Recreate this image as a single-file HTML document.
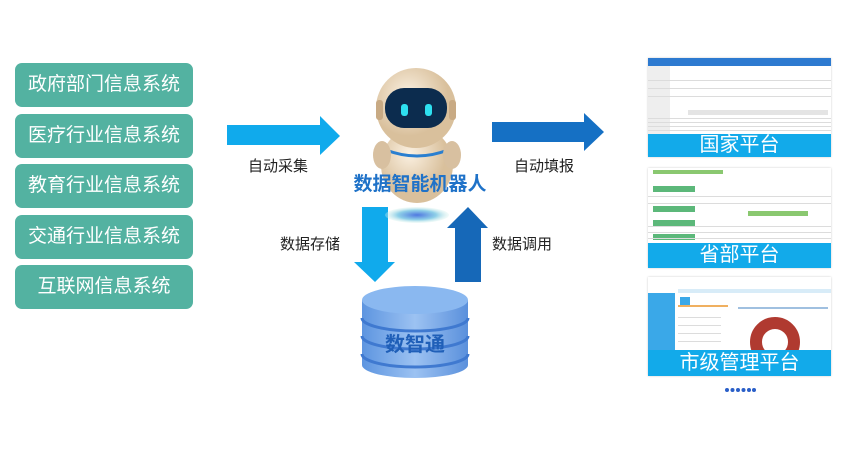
<!DOCTYPE html>
<html><head><meta charset="utf-8"><style>
body{margin:0;width:860px;height:450px;background:#fff;overflow:hidden;position:relative;font-family:"Liberation Sans","Noto Sans CJK SC",sans-serif}
.b{position:absolute;left:15px;width:178px;height:44px;background:#53b2a1;border-radius:7px;color:#fff;font-size:19px;line-height:44px;text-align:center}
.t{position:absolute;font-size:15px;color:#222}
.p{position:absolute;left:648px;width:183px;background:#fff;box-shadow:0 0 2px #ccc;overflow:hidden}
.band{position:absolute;left:0;right:0;bottom:0;background:#12aaea;color:#fff;font-size:20px;text-align:center}
.row{position:absolute;left:0;right:0;height:1px;background:#dcdcdc}
</style></head><body>
<div class="b" style="top:63px">政府部门信息系统</div>
<div class="b" style="top:114px">医疗行业信息系统</div>
<div class="b" style="top:164px">教育行业信息系统</div>
<div class="b" style="top:215px">交通行业信息系统</div>
<div class="b" style="top:265px">互联网信息系统</div>

<svg width="860" height="450" style="position:absolute;left:0;top:0">
<defs>
<linearGradient id="cy" x1="0" x2="1"><stop offset="0" stop-color="#5d95e0"/><stop offset="0.5" stop-color="#9cc2f2"/><stop offset="1" stop-color="#5a90dc"/></linearGradient>
<radialGradient id="sh"><stop offset="0" stop-color="#4f78e0"/><stop offset="0.6" stop-color="#8fd0e8"/><stop offset="1" stop-color="#d8f2ec" stop-opacity="0.3"/></radialGradient>
<radialGradient id="hd" cx="0.4" cy="0.35"><stop offset="0" stop-color="#fbf1e2"/><stop offset="1" stop-color="#d9c09c"/></radialGradient>
</defs>
<polygon points="227,125 320,125 320,116 340,136 320,155 320,145 227,145" fill="#10aaec"/>
<polygon points="492,122 584,122 584,113 604,132 584,151 584,142 492,142" fill="#1570c4"/>
<polygon points="362,207 388,207 388,262 395,262 375,282 354,262 362,262" fill="#10aaec"/>
<polygon points="455,282 481,282 481,228 488,228 468,207 447,228 455,228" fill="#1668b8"/>
<ellipse cx="417" cy="215" rx="32" ry="8" fill="url(#sh)"/>
<ellipse cx="417" cy="165" rx="36" ry="38" fill="url(#hd)"/>
<path d="M386 150 Q417 162 448 150" stroke="#2a7fd0" stroke-width="3" fill="none"/>
<ellipse cx="382" cy="155" rx="9" ry="14" fill="#d8c0a0"/>
<ellipse cx="452" cy="155" rx="9" ry="14" fill="#d8c0a0"/>
<ellipse cx="416" cy="108" rx="40" ry="40" fill="url(#hd)"/>
<rect x="376" y="100" width="7" height="20" rx="3" fill="#c8aa84"/>
<rect x="449" y="100" width="7" height="20" rx="3" fill="#c8aa84"/>
<rect x="385" y="88" width="62" height="40" rx="19" fill="#0c2c4e"/>
<rect x="401" y="104" width="7" height="12" rx="3" fill="#2ee0f0"/>
<rect x="425" y="104" width="7" height="12" rx="3" fill="#2ee0f0"/>
<path d="M362 300 L362 365 A53 13 0 0 0 468 365 L468 300 Z" fill="url(#cy)"/>
<path d="M362 318 A53 13 0 0 0 468 318 M362 336 A53 13 0 0 0 468 336 M362 354 A53 13 0 0 0 468 354" stroke="#3f79d0" stroke-width="3" fill="none"/>
<ellipse cx="415" cy="300" rx="53" ry="14" fill="#8ab8f0"/>
<text x="415" y="351" text-anchor="middle" font-size="20" font-weight="bold" fill="#1f5fb8" font-family="Liberation Sans,Noto Sans CJK SC,sans-serif">数智通</text>
<text x="420" y="190" text-anchor="middle" font-size="19" font-weight="bold" fill="#1f72c8" font-family="Liberation Sans,Noto Sans CJK SC,sans-serif">数据智能机器人</text>
<g fill="#2a5fc8"><circle cx="727" cy="390" r="2"/><circle cx="732.5" cy="390" r="2"/><circle cx="738" cy="390" r="2"/><circle cx="743.5" cy="390" r="2"/><circle cx="749" cy="390" r="2"/><circle cx="754" cy="390" r="2"/></g>
</svg>

<div class="t" style="left:248px;top:155px">自动采集</div>
<div class="t" style="left:514px;top:155px">自动填报</div>
<div class="t" style="left:280px;top:233px">数据存储</div>
<div class="t" style="left:492px;top:233px">数据调用</div>

<div class="p" style="top:58px;height:99px">
 <div style="position:absolute;left:0;right:0;top:0;height:8px;background:#2d7ad0"></div>
 <div style="position:absolute;left:0;top:8px;width:22px;height:76px;background:#eee"></div>
 <div style="position:absolute;left:40px;top:52px;width:140px;height:5px;background:#e4e4e4"></div>
 <div class="row" style="top:22px"></div><div class="row" style="top:30px"></div><div class="row" style="top:38px"></div><div class="row" style="top:60px"></div><div class="row" style="top:64px"></div><div class="row" style="top:68px"></div><div class="row" style="top:72px"></div>
 <div class="band" style="height:23px;line-height:23px">国家平台</div>
</div>
<div class="p" style="top:168px;height:100px">
 <div style="position:absolute;left:5px;top:18px;width:42px;height:6px;background:#5cb87a"></div>
 <div style="position:absolute;left:5px;top:38px;width:42px;height:6px;background:#5cb87a"></div>
 <div style="position:absolute;left:5px;top:52px;width:42px;height:6px;background:#5cb87a"></div>
 <div style="position:absolute;left:5px;top:66px;width:42px;height:6px;background:#5cb87a"></div>
 <div style="position:absolute;left:5px;top:2px;width:70px;height:4px;background:#8ac870"></div>
 <div style="position:absolute;left:100px;top:43px;width:60px;height:5px;background:#8ac870"></div>
 <div class="row" style="top:28px"></div><div class="row" style="top:35px"></div><div class="row" style="top:58px"></div><div class="row" style="top:64px"></div><div class="row" style="top:70px"></div>
 <div class="band" style="height:25px;line-height:25px">省部平台</div>
</div>
<div class="p" style="top:277px;height:99px">
 <div style="position:absolute;left:0;top:0;width:27px;height:80px;background:#3aa8e8"></div>
 <div style="position:absolute;left:0;top:0;width:27px;height:16px;background:#fff"></div>
 <div style="position:absolute;left:30px;top:12px;width:153px;height:4px;background:#d8ecf8"></div>
 <div style="position:absolute;left:32px;top:20px;width:10px;height:10px;background:#3aa8e8"></div>
 <div style="position:absolute;left:90px;top:30px;width:90px;height:2px;background:#a0c0e0"></div>
 <div style="position:absolute;left:30px;top:28px;width:50px;height:2px;background:#f0b060"></div>
 <div class="row" style="left:30px;right:110px;top:40px"></div><div class="row" style="left:30px;right:110px;top:48px"></div><div class="row" style="left:30px;right:110px;top:56px"></div><div class="row" style="left:30px;right:110px;top:64px"></div>
 <div style="position:absolute;left:102px;top:40px;width:50px;height:50px;border-radius:50%;border:12px solid #b03a30;box-sizing:border-box"></div>
 <div class="band" style="height:26px;line-height:26px">市级管理平台</div>
</div>
</body></html>
